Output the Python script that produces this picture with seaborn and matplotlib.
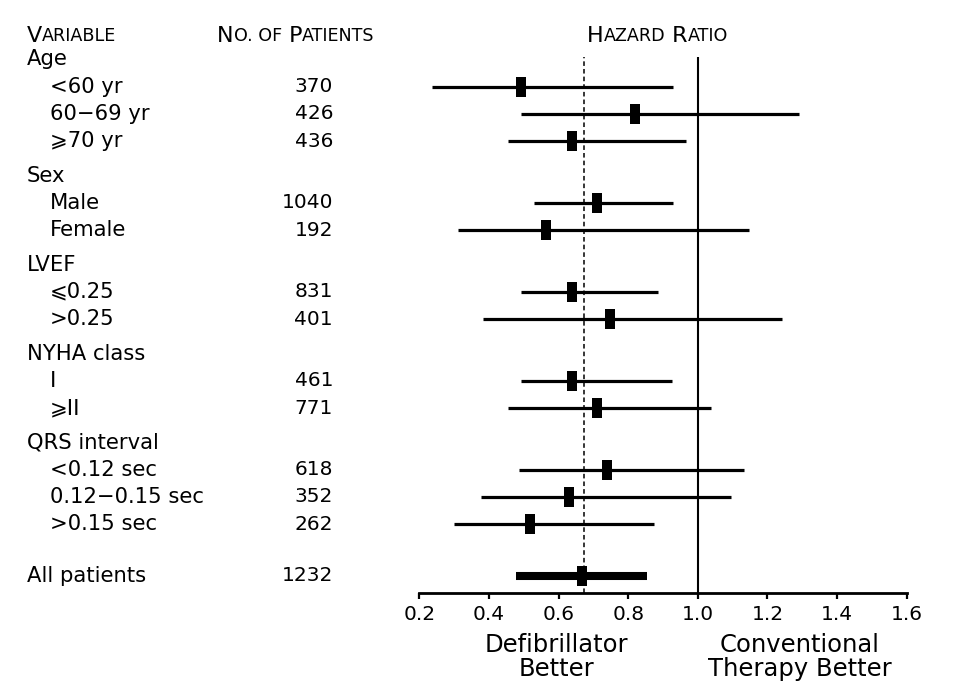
import numpy as np
import pandas as pd
import matplotlib
matplotlib.use('Agg')
import matplotlib.pyplot as plt
import matplotlib.transforms as mtrans
import seaborn as sns

# subgroup data
groups = ['Age', 'Sex', 'LVEF', 'NYHA class', 'QRS interval']
labels = [['<60 yr', '60\u221269 yr', '\u2a7e70 yr'],
          ['Male', 'Female'],
          ['\u2a7d0.25', '>0.25'],
          ['I', '\u2a7eII'],
          ['<0.12 sec', '0.12\u22120.15 sec', '>0.15 sec']]
patients = [[370, 426, 436], [1040, 192], [831, 401], [461, 771], [618, 352, 262]]
hr = [[0.493, 0.820, 0.639], [0.711, 0.565], [0.638, 0.749], [0.638, 0.710], [0.740, 0.631, 0.517]]
ci_low = [[0.237, 0.491, 0.456], [0.528, 0.310], [0.491, 0.382], [0.491, 0.456], [0.487, 0.377, 0.301]]
ci_high = [[0.928, 1.292, 0.966], [0.928, 1.147], [0.885, 1.243], [0.927, 1.037], [1.132, 1.096, 0.874]]

all_label = 'All patients'
all_n = 1232
all_hr, all_low, all_high = 0.667, 0.477, 0.855
overall_line = 0.674

xticks = [0.2, 0.4, 0.6, 0.8, 1.0, 1.2, 1.4, 1.6]

# build a table with a row position for each line of the plot
rows = []
headers = []
pos = 0.0
for g, labs, ns, h, lo, hi in zip(groups, labels, patients, hr, ci_low, ci_high):
    headers.append((g, pos))
    for i in range(len(labs)):
        pos += 1
        rows.append({'label': labs[i], 'n': ns[i], 'hr': h[i], 'lo': lo[i], 'hi': hi[i],
                     'pos': pos, 'lw': 2.3})
    pos += 1.27
pos = pos - 1.27 + 1.9
rows.append({'label': all_label, 'n': all_n, 'hr': all_hr, 'lo': all_low, 'hi': all_high,
             'pos': pos, 'lw': 5.8})
df = pd.DataFrame(rows)

sns.set_theme(style='white', rc={'text.color': 'black', 'xtick.color': 'black'})
plt.rcParams['font.family'] = ['DejaVu Sans']

fig = plt.figure(figsize=(9.6, 6.86), dpi=100)
ax = fig.add_axes([0.4368, 0.1351, 0.5077, 0.7818])

ax.hlines(df['pos'], df['lo'], df['hi'], colors='black', linewidths=df['lw'], zorder=3)
box = [(-0.25, -0.5), (0.25, -0.5), (0.25, 0.5), (-0.25, 0.5)]
sns.scatterplot(data=df, x='hr', y='pos', marker=box, s=207, color='black',
                linewidth=0, legend=False, ax=ax, zorder=4)

ax.axvline(1.0, color='black', lw=1.5, zorder=2)
ax.axvline(overall_line, color='black', lw=1.1, ls=(0, (3, 2)), zorder=2)

ax.set_xlim(0.2, 1.6)
ax.set_ylim(19.62, -0.09)
ax.set_xticks(xticks)
ax.set_xticklabels([f'{t:.1f}' for t in xticks], fontsize=14.5, color='black')
ax.set_yticks([])
ax.set_xlabel('')
ax.set_ylabel('')
for s in ['left', 'top', 'right']:
    ax.spines[s].set_visible(False)
ax.spines['bottom'].set_linewidth(2)
ax.spines['bottom'].set_color('black')
ax.tick_params(axis='x', direction='out', length=4.5, width=1.6, colors='black',
               pad=4, bottom=True)
ax.patch.set_alpha(0)

fs = 15.2
blend = mtrans.blended_transform_factory(fig.transFigure, ax.transData)
for g, p in headers:
    ax.text(27 / 960, p, g, transform=blend, fontsize=fs, va='center', ha='left',
            color='black', clip_on=False)
for _, r in df.iterrows():
    x0 = 27 / 960 if r['label'] == all_label else 50 / 960
    ax.text(x0, r['pos'], r['label'], transform=blend, fontsize=fs, va='center', ha='left',
            color='black', clip_on=False)
    ax.text(333 / 960, r['pos'], str(r['n']), transform=blend, fontsize=14.5, va='center',
            ha='right', color='black', clip_on=False)


def small_caps(x, y, pieces, big=16.0, small=12.6):
    d = 0.236
    prev = None
    prev_size = None
    for txt, is_big in pieces:
        size = big if is_big else small
        if prev is None:
            prev = fig.text(x, y, txt, fontsize=size, ha='left', va='bottom', color='black')
        else:
            prev = ax.annotate(txt, xy=(1, 0), xycoords=prev, xytext=(0, d * (prev_size - size)),
                               textcoords='offset points', fontsize=size, ha='left', va='bottom',
                               color='black', annotation_clip=False)
        prev_size = size


hy = (686 - 46) / 686
small_caps(27 / 960, hy, [('V', True), ('ARIABLE', False)])
small_caps(217 / 960, hy, [('N', True), ('O. OF', False), (' P', True), ('ATIENTS', False)])
small_caps(587 / 960, hy, [('H', True), ('AZARD', False), (' R', True), ('ATIO', False)])

bot = mtrans.blended_transform_factory(ax.transData, fig.transFigure)
ax.text(0.593, (686 - 657) / 686, 'Defibrillator\nBetter', transform=bot, fontsize=17.5,
        ha='center', va='center', linespacing=0.95, color='black', clip_on=False)
ax.text(1.293, (686 - 657) / 686, 'Conventional\nTherapy Better', transform=bot, fontsize=17.5,
        ha='center', va='center', linespacing=0.95, color='black', clip_on=False)

fig.savefig('out.png', dpi=100)
